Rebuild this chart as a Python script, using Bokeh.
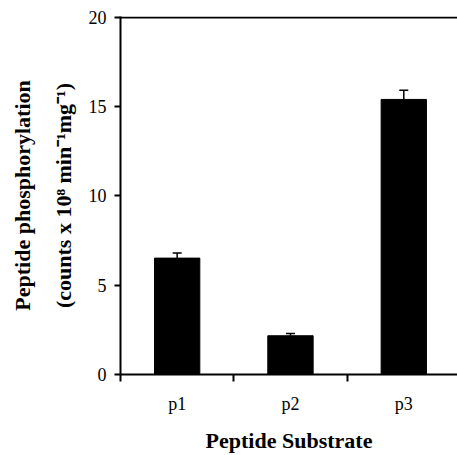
from bokeh.plotting import figure
from bokeh.models import (ColumnDataSource, FixedTicker, LinearAxis, Range1d,
                          Span, Whisker, TeeHead)
from bokeh.embed import file_html
from bokeh.resources import INLINE

# data
categories = ["p1", "p2", "p3"]
values = [6.52, 2.17, 15.41]
errors = [0.28, 0.13, 0.52]
y_ticks = [0, 5, 10, 15, 20]

xs = [i + 0.5 for i in range(len(categories))]
bounds = [i for i in range(len(categories) + 1)]
src = ColumnDataSource(dict(
    x=xs, top=values,
    upper=[v + e for v, e in zip(values, errors)],
    lower=values,
))

FONT = "Liberation Serif"

p = figure(width=457, height=455, output_backend="svg", toolbar_location=None,
           x_range=Range1d(0, 2.974), y_range=Range1d(0, 20.056),
           min_border_left=120, min_border_right=0, min_border_top=16,
           min_border_bottom=79)
p.outline_line_color = None
p.background_fill_color = "white"
p.xgrid.visible = False
p.ygrid.visible = False

p.vbar(x="x", top="top", width=0.4, bottom=0, source=src,
       fill_color="black", line_color="black")
p.add_layout(Whisker(base="x", upper="upper", lower="lower", source=src,
                     upper_head=TeeHead(size=9, line_width=1.5),
                     lower_head=None, line_width=1.5, line_color="black"))

p.add_layout(Span(location=20, dimension="width", line_color="black",
                  line_width=2))

# x axis
xa = p.xaxis[0]
xa.ticker = FixedTicker(ticks=xs, minor_ticks=bounds)
xa.major_label_overrides = {x: c for x, c in zip(xs, categories)}
xa.major_tick_out = 0
xa.major_tick_in = 0
xa.minor_tick_out = 7
xa.minor_tick_in = 0
xa.minor_tick_line_color = "black"
xa.minor_tick_line_width = 2
xa.axis_line_width = 2
xa.axis_line_color = "black"
xa.major_label_text_font = FONT
xa.major_label_text_font_size = "18px"
xa.major_label_text_color = "black"
xa.major_label_standoff = 12
xa.axis_label = "Peptide Substrate"
xa.axis_label_text_font = FONT
xa.axis_label_text_font_style = "bold"
xa.axis_label_text_font_size = "22px"
xa.axis_label_text_color = "black"
xa.axis_label_standoff = 11

# y axis
ya = p.yaxis[0]
ya.ticker = FixedTicker(ticks=y_ticks)
ya.major_tick_out = 6
ya.major_tick_in = 0
ya.major_tick_line_width = 2
ya.minor_tick_line_color = None
ya.axis_line_width = 2
ya.axis_line_color = "black"
ya.major_label_text_font = FONT
ya.major_label_text_font_size = "18px"
ya.major_label_text_color = "black"
ya.major_label_standoff = 8
ya.axis_label = "(counts x 10\u2078 min\u207b\u00b9mg\u207b\u00b9)"
ya.axis_label_text_font = FONT
ya.axis_label_text_font_style = "bold"
ya.axis_label_text_font_size = "22px"
ya.axis_label_text_color = "black"
ya.axis_label_standoff = 10

ya2 = LinearAxis(axis_label="Peptide phosphorylation",
                 ticker=FixedTicker(ticks=[]),
                 axis_line_color=None, major_tick_line_color=None,
                 minor_tick_line_color=None,
                 major_label_text_font_size="0px",
                 axis_label_text_font=FONT,
                 axis_label_text_font_style="bold",
                 axis_label_text_font_size="22px",
                 axis_label_text_color="black",
                 axis_label_standoff=13)
p.add_layout(ya2, "left")

open("out.html", "w").write(file_html(p, INLINE))
